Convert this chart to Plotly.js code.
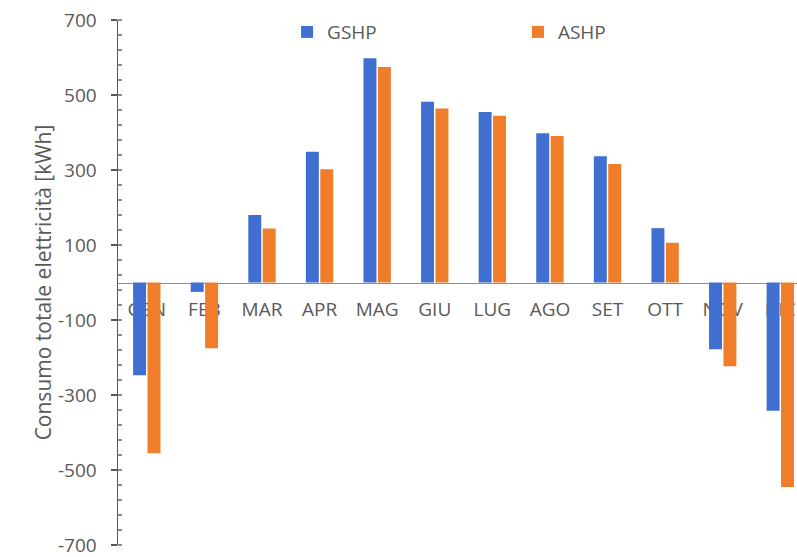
<!DOCTYPE html>
<html><head><meta charset="utf-8">
<script src="https://cdn.plot.ly/plotly-3.0.1.min.js"></script>
<style>html,body{margin:0;padding:0;background:#fff}</style>
</head><body>
<div id="chart" style="width:797px;height:557px"></div>
<script>
const months = ["GEN","FEB","MAR","APR","MAG","GIU","LUG","AGO","SET","OTT","NOV","DIC"];
const gshp = [-247,-25,180,349,598,482,455,398,337,145,-178,-342];
const ashp = [-455,-175,144,302,575,464,445,391,316,106,-223,-545];
const yTickVals = [-700,-500,-300,-100,100,300,500,700];

const font = "Open Sans, Noto Sans, sans-serif";
const grey = "#595959";

const traces = [
  {type:"bar", name:"GSHP", x:months, y:gshp, marker:{color:"#3F6FD0"}, legend:"legend"},
  {type:"bar", name:"ASHP", x:months, y:ashp, marker:{color:"#EF7D2A"}, legend:"legend2"}
];

const legendBase = {orientation:"v", yanchor:"middle", xanchor:"left",
  font:{size:19, color:grey, family:font}, bgcolor:"rgba(0,0,0,0)", itemwidth:30};

const layout = {
  width:797, height:557,
  margin:{l:118, r:0, t:20, b:12},
  paper_bgcolor:"#fff", plot_bgcolor:"#fff",
  font:{family:font, color:grey, size:14},
  barmode:"group", bargap:0.5, bargroupgap:0.1,
  showlegend:true,
  legend:Object.assign({}, legendBase, {x:0.249, y:0.977}),
  legend2:Object.assign({}, legendBase, {x:0.589, y:0.977}),
  xaxis:{type:"category", range:[-0.5,11.29], anchor:"free", position:0.5,
         showline:true, linecolor:"#8c8c8c", linewidth:1.5, ticks:"",
         showgrid:false, zeroline:false, layer:"below traces",
         ticklabelstandoff:9, tickfont:{size:19, color:grey, family:font}},
  yaxis:{range:[-700,700], tickvals:yTickVals, ticktext:yTickVals.map(String),
         showline:true, linecolor:"#595959", linewidth:1.5,
         ticks:"outside", ticklen:6, tickcolor:"#595959", tickwidth:1.5,
         ticklabelstandoff:10, ticklabeloverflow:"allow",
         minor:{dtick:40, tick0:-700, ticks:"inside", ticklen:4, tickcolor:"#8c8c8c"},
         showgrid:false, zeroline:false,
         tickfont:{size:19, color:grey, family:font},
         title:{text:"Consumo totale elettricità [kWh]", font:{size:21, color:grey, family:font}, standoff:0}}
};

Plotly.newPlot("chart", traces, layout, {displayModeBar:false, staticPlot:true});
</script>
</body></html>
